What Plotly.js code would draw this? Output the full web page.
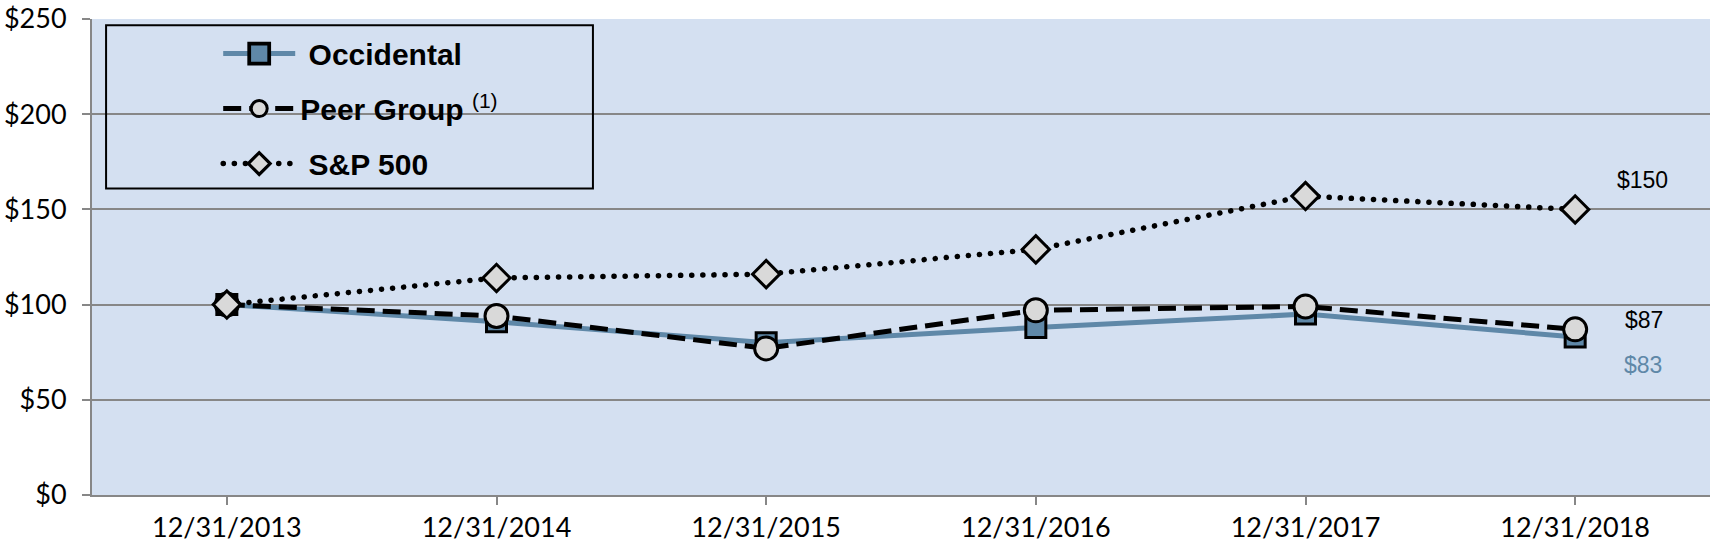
<!DOCTYPE html>
<html><head><meta charset="utf-8">
<script src="https://cdn.plot.ly/plotly-3.0.1.min.js"></script>
<style>
html,body{margin:0;padding:0;background:#fff;}
#chart{width:1732px;height:552px;}
</style></head><body><div id="chart"></div>
<script>
const dates = ['12/31/2013','12/31/2014','12/31/2015','12/31/2016','12/31/2017','12/31/2018'];
const occidental = [100, 91, 80, 88, 95, 83];
const peerGroup = [100, 94, 77, 97, 99, 87];
const sp500 = [100, 114, 116, 129, 157, 150];
const yTicks = [0, 50, 100, 150, 200, 250];
const yTickLabels = yTicks.map(v => '$' + v);
const seriesNames = ['\u00a0<b>Occidental</b>', '<b>Peer Group</b> <sup>(1)</sup>', '\u00a0<b>S&P 500</b>'];

const blue = '#5f88a8';
const grid = '#878787';
const markerFill = '#d9d9d9';

const traces = [
  {x: dates, y: occidental, name: seriesNames[0], legendgroup: 'a', mode: 'lines+markers', type: 'scatter',
   line: {color: blue, width: 5},
   marker: {symbol: 'square', size: 20, color: blue, line: {color: '#000', width: 3}}},
  {x: dates, y: peerGroup, name: seriesNames[1], legendgroup: 'b', mode: 'lines+markers', type: 'scatter',
   line: {color: '#000', width: 5, dash: '18px,8px'},
   marker: {symbol: 'circle', size: 23, color: markerFill, line: {color: '#000', width: 3}}},
  {x: dates, y: sp500, name: seriesNames[2], legendgroup: 'c', mode: 'lines+markers', type: 'scatter',
   line: {color: '#000', width: 5.5, dash: '0.1px,11px'},
   marker: {symbol: 'diamond', size: 21, color: markerFill, line: {color: '#000', width: 3}}}
];

const last = dates.length - 1;
const annFont = {family: 'Liberation Sans, Arial, sans-serif', size: 23, color: '#000'};
const layout = {
  width: 1732, height: 552,
  margin: {l: 92, r: 22, t: 19, b: 57},
  paper_bgcolor: '#ffffff',
  plot_bgcolor: '#d4e0f1',
  showlegend: true,
  legend: {
    x: 0.078, y: 0.982, xanchor: 'left', yanchor: 'top',
    bgcolor: 'rgba(0,0,0,0)', borderwidth: 0,
    itemwidth: 72,
    traceorder: 'grouped', tracegroupgap: 13,
    font: {family: 'Liberation Sans, Arial, sans-serif', size: 30, color: '#000'}
  },
  shapes: [{type: 'rect', xref: 'paper', yref: 'paper', x0: 0.0087, x1: 0.3096, y0: 0.644, y1: 0.987,
            line: {color: '#000', width: 2}, fillcolor: 'rgba(0,0,0,0)', layer: 'above'}],
  xaxis: {
    type: 'category', range: [-0.5, 5.5], showgrid: false, zeroline: false,
    showline: true, linecolor: grid, linewidth: 2,
    ticks: 'outside', ticklen: 8, tickwidth: 2, tickcolor: grid,
    tickfont: {family: 'Lato, sans-serif', size: 27, color: '#000'}, fixedrange: true
  },
  yaxis: {
    range: [0, 250], tickvals: yTicks, ticktext: yTickLabels,
    showgrid: true, gridcolor: grid, gridwidth: 2, zeroline: false,
    showline: true, linecolor: grid, linewidth: 2,
    ticks: 'outside', ticklen: 8, tickwidth: 2, tickcolor: grid,
    ticklabelstandoff: 10,
    tickfont: {family: 'Lato, sans-serif', size: 27, color: '#000'}, fixedrange: true
  },
  annotations: [
    {x: dates[last], y: sp500[last], text: '$' + sp500[last], showarrow: false, xshift: 67, yshift: 29, font: annFont},
    {x: dates[last], y: peerGroup[last], text: '$' + peerGroup[last], showarrow: false, xshift: 69, yshift: 9, font: annFont},
    {x: dates[last], y: occidental[last], text: '$' + occidental[last], showarrow: false, xshift: 68, yshift: -28,
     font: Object.assign({}, annFont, {color: blue})}
  ]
};

Plotly.newPlot('chart', traces, layout, {staticPlot: true}).then(() => {
  document.querySelectorAll('.js-line').forEach(p => {
    const d = p.style.strokeDasharray || '';
    if (d.indexOf('0.1') === 0) p.style.strokeLinecap = 'round';
  });
  const legPts = document.querySelectorAll('.legend .legendpoints path.scatterpts');
  legPts.forEach((p, i) => {
    const t = p.getAttribute('transform') || '';
    const s = i === 0 ? 1.25 : (i === 2 ? 1.05 : 1);
    p.setAttribute('transform', t + ' scale(' + s + ')');
  });
});
</script></body></html>
